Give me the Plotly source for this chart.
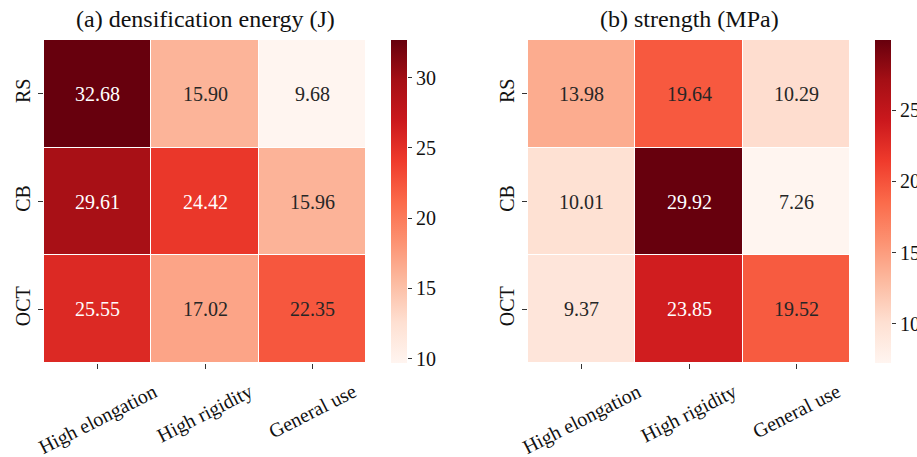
import plotly.graph_objects as go

# Mix design categories and formulations
designs = ["High elongation", "High rigidity", "General use"]
formulations = ["RS", "CB", "OCT"]

# Densification energy (J), rows follow `formulations`
energy = [
    [32.68, 15.90, 9.68],
    [29.61, 24.42, 15.96],
    [25.55, 17.02, 22.35],
]

# Strength (MPa), rows follow `formulations`
strength = [
    [13.98, 19.64, 10.29],
    [10.01, 29.92, 7.26],
    [9.37, 23.85, 19.52],
]

panel_titles = ["(a) densification energy (J)", "(b) strength (MPa)"]

# ColorBrewer "Reds" (9 class)
reds = [
    [0.000, "#fff5f0"], [0.125, "#fee0d2"], [0.250, "#fcbba1"],
    [0.375, "#fc9272"], [0.500, "#fb6a4a"], [0.625, "#ef3b2c"],
    [0.750, "#cb181d"], [0.875, "#a50f15"], [1.000, "#67000d"],
]

W, H = 917, 457
FONT = "Liberation Serif"

# plot area in pixels
L, R, T, B = 44, W, 40, 363
PW, PH = R - L, B - T
CB_W = 16

def fx(p):
    return (p - L) / PW

def fy(p):
    return 1 - (p - T) / PH

panels = [
    dict(x0=44, x1=366, cb=391),
    dict(x0=528, x1=850, cb=875),
]

fig = go.Figure()
annotations = []
axes = {}

for i, (data, title, pn) in enumerate(zip([energy, strength], panel_titles, panels)):
    n = 2 * i + 1
    xa, ya = ("x", "y") if n == 1 else (f"x{n}", f"y{n}")
    xs, ys = f"x{n + 1}", f"y{n + 1}"
    flat = [v for row in data for v in row]
    lo, hi = min(flat), max(flat)
    fig.add_trace(go.Heatmap(
        z=data, x=designs, y=formulations,
        colorscale=reds, zmin=lo, zmax=hi,
        xgap=1, ygap=1,
        xaxis=xa, yaxis=ya,
        hoverinfo="skip",
        colorbar=dict(
            x=fx(pn["cb"]), xanchor="left", xref="paper",
            y=0.5, yanchor="middle",
            len=1.0, lenmode="fraction",
            thickness=CB_W, thicknessmode="pixels",
            outlinewidth=0, ticks="", showticklabels=False,
            xpad=0, ypad=0,
        ),
    ))
    # value scale beside the colour bar, spanning the same range
    fig.add_trace(go.Scatter(x=[], y=[], xaxis=xs, yaxis=ys,
                             showlegend=False, hoverinfo="skip"))

    # cell value labels
    for r, name in enumerate(formulations):
        for c, d in enumerate(designs):
            v = data[r][c]
            frac = (v - lo) / (hi - lo)
            annotations.append(dict(
                x=d, y=name, xref=xa, yref=ya, text=f"{v:.2f}",
                showarrow=False,
                font=dict(family=FONT, size=20,
                          color="white" if frac > 0.6 else "#262626"),
            ))
    # rotated category labels, centred under each tick
    for d in designs:
        annotations.append(dict(
            x=d, xref=xa, y=fy(377), yref="paper", text=d,
            showarrow=False, textangle=-27,
            xanchor="center", yanchor="top",
            font=dict(family=FONT, size=20, color="#111"),
        ))
    # panel title
    annotations.append(dict(
        x=fx((pn["x0"] + pn["x1"]) / 2), y=fy(19), xref="paper", yref="paper",
        text=title, showarrow=False, xanchor="center", yanchor="middle",
        font=dict(family=FONT, size=24, color="#111"),
    ))

    axis_common = dict(
        ticks="outside", ticklen=5, tickwidth=1, tickcolor="#333",
        showline=False, showgrid=False, zeroline=False, automargin=False,
        tickfont=dict(family=FONT, size=20, color="#111"),
    )
    axes["xaxis" if n == 1 else f"xaxis{n}"] = dict(
        domain=[fx(pn["x0"]), fx(pn["x1"])], anchor=ya,
        range=[-0.5, len(designs) - 0.5],
        showticklabels=False, **axis_common,
    )
    axes["yaxis" if n == 1 else f"yaxis{n}"] = dict(
        domain=[0, 1], anchor=xa,
        range=[len(formulations) - 0.5, -0.5],
        tickangle=-90, **axis_common,
    )
    axes[f"xaxis{n + 1}"] = dict(
        domain=[fx(pn["cb"]), fx(pn["cb"] + CB_W)], anchor=ys,
        visible=False, range=[0, 1], automargin=False,
    )
    axes[f"yaxis{n + 1}"] = dict(
        domain=[0, 1], anchor=xs, side="right", range=[lo, hi],
        dtick=5, tick0=0, ticks="outside", ticklen=4, tickwidth=1,
        tickcolor="#333", showline=False, showgrid=False, zeroline=False,
        automargin=False,
        tickfont=dict(family=FONT, size=20, color="#111"),
    )

fig.update_layout(**axes)
fig.update_layout(
    width=W, height=H,
    margin=dict(l=L, r=W - R, t=T, b=H - B, pad=0),
    paper_bgcolor="white", plot_bgcolor="rgba(0,0,0,0)",
    annotations=annotations,
    font=dict(family=FONT),
)

fig.write_html("out.html")
